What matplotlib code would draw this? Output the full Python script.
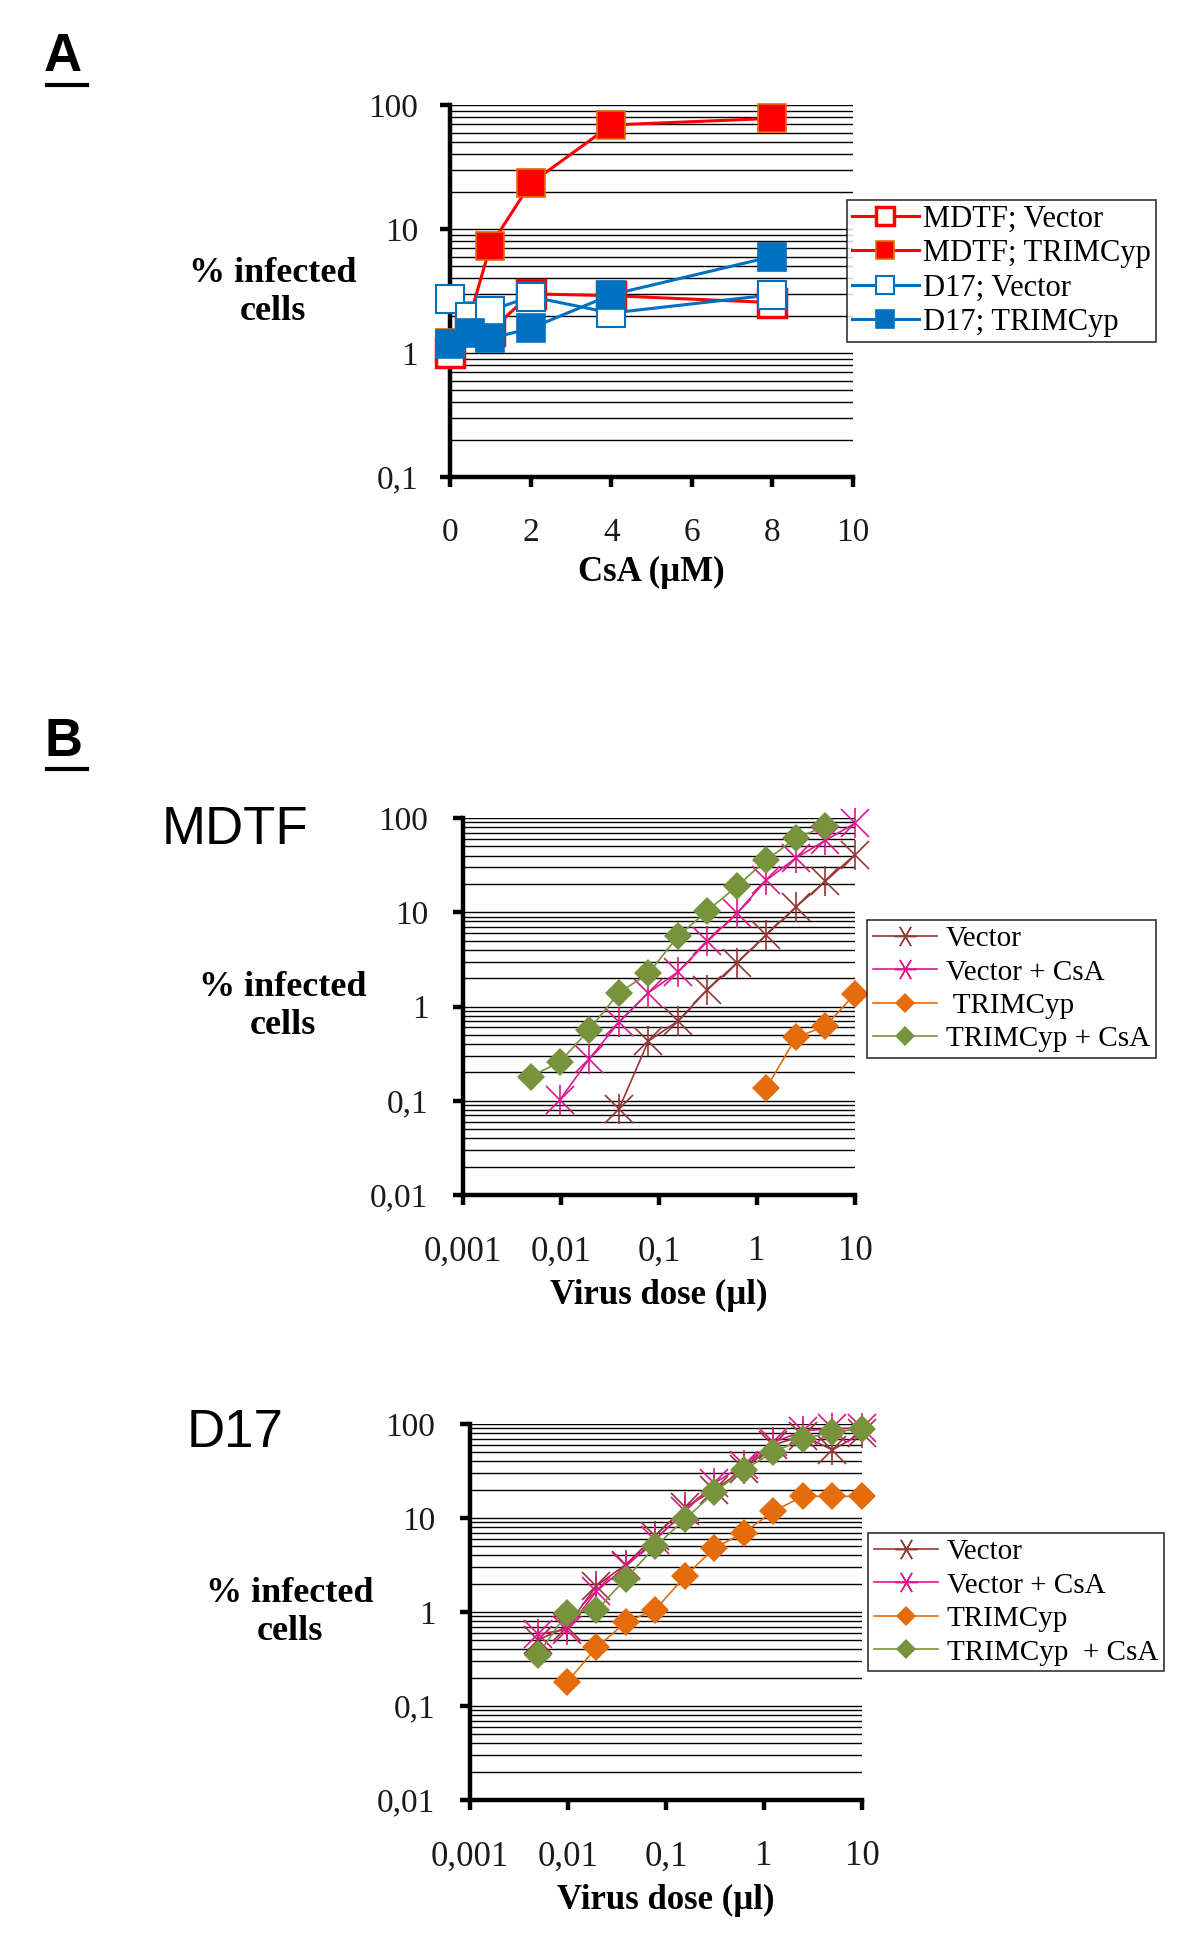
import matplotlib
matplotlib.use("Agg")
import matplotlib.pyplot as plt
from matplotlib.ticker import LogLocator, FixedLocator, FuncFormatter, NullFormatter
from matplotlib.lines import Line2D

# Panel A : % infected cells vs CsA
csa = [0, 0.5, 1, 2, 4, 8]
mdtf_vector = [1.0, 1.6, 1.5, 3.0, 2.9, 2.55]
mdtf_trimcyp = [1.2, 2.0, 7.3, 23.3, 69, 78]
d17_vector = [2.75, 1.95, 2.2, 2.85, 2.1, 2.95]
d17_trimcyp = [1.18, 1.45, 1.31, 1.58, 2.95, 6.0]

# Panel B : % infected cells vs virus dose (two-fold dilutions)
dose = [0.0049, 0.0098, 0.0195, 0.039, 0.078, 0.156, 0.3125, 0.625, 1.25, 2.5, 5, 10]
mdtf_vec = [None, None, None, 0.082, 0.43, 0.70, 1.51, 2.9, 5.8, 11.4, 21.4, 40.9]
mdtf_vec_csa = [None, 0.103, 0.28, 0.68, 1.4, 2.33, 4.9, 9.8, 22, 37.7, 58, 88]
mdtf_trim = [None, None, None, None, None, None, None, None, 0.137, 0.47, 0.62, 1.36]
mdtf_trim_csa = [0.18, 0.26, 0.57, 1.40, 2.24, 5.57, 10.4, 18.9, 36, 61, 82, None]

d17_vec = [0.50, 0.70, 1.9, 3.2, 6.5, 13, 20, 33, 60, 75, 53, 80]
d17_vec_csa = [0.58, 0.65, 1.66, 3.06, 5.9, 11.8, 23.5, 37, 64, 84, 90, 90]
d17_trim = [None, 0.18, 0.42, 0.78, 1.06, 2.39, 4.8, 7.0, 11.8, 17, 17, 17]
d17_trim_csa = [0.35, 0.98, 1.04, 2.27, 5.0, 9.7, 18.8, 32.6, 50.4, 69, 83, 88]

labels_a = ["MDTF; Vector", "MDTF; TRIMCyp", "D17; Vector", "D17; TRIMCyp"]
labels_mdtf = ["Vector", "Vector + CsA", " TRIMCyp", "TRIMCyp + CsA"]
labels_d17 = ["Vector", "Vector + CsA", "TRIMCyp", "TRIMCyp  + CsA"]

serif = "Liberation Serif"
sans = "Liberation Sans"

W, H = 1200, 1955
fig = plt.figure(figsize=(12, 19.55), dpi=100)


def box(l, t, r, b):
    # pixel box -> figure fraction
    return [l / W, 1 - b / H, (r - l) / W, (b - t) / H]


def comma(v, pos):
    s = ("%g" % v)
    if v < 0.01 and v > 0:
        s = "%.3f" % v
    return s.replace(".", ",")


def style_axes(ax, xpad, ypad, size):
    for s in ["top", "right"]:
        ax.spines[s].set_visible(False)
    for s in ["left", "bottom"]:
        ax.spines[s].set_linewidth(3.2)
    ax.set_yscale("log")
    ax.yaxis.set_major_formatter(FuncFormatter(comma))
    ax.yaxis.set_minor_locator(LogLocator(base=10, subs=range(2, 10)))
    ax.yaxis.set_minor_formatter(NullFormatter())
    ax.yaxis.grid(True, which="both", color="black", linewidth=1.0)
    ax.set_axisbelow(True)
    ax.tick_params(which="major", direction="out", length=7, width=3.2,
                   labelsize=size, colors="black", labelcolor="#1a1a1a")
    ax.tick_params(axis="x", pad=xpad)
    ax.tick_params(axis="y", pad=ypad)
    ax.tick_params(which="minor", length=0)
    for t in ax.get_xticklabels() + ax.get_yticklabels():
        t.set_fontfamily(serif)


def panel_letter(txt, x, y, y_line):
    fig.text(x / W, 1 - y / H, txt, fontsize=38, fontweight="bold",
             family=sans, ha="left", va="top")
    fig.add_artist(Line2D([47 / W, 87 / W], [1 - y_line / H, 1 - y_line / H],
                          color="black", linewidth=3))


def ylabel(x, y):
    fig.text(x / W, 1 - y / H, "% infected\ncells", fontsize=26,
             fontweight="bold", family=serif, ha="center", va="center",
             linespacing=1.2)


# ---------------- Panel A ----------------
panel_letter("A", 44, 32, 85)
axA = fig.add_axes(box(450, 105, 853, 477))
axA.plot(csa, mdtf_vector, color="#FF0000", lw=2.2, marker="s", ms=20,
         mfc="white", mec="#FF0000", mew=2.5, clip_on=False, zorder=3, label=labels_a[0])
axA.plot(csa, mdtf_trimcyp, color="#FF0000", lw=2.2, marker="s", ms=20,
         mfc="#FF0000", mec="#E46C0A", mew=1.2, clip_on=False, zorder=4, label=labels_a[1])
axA.plot(csa, d17_vector, color="#0070C0", lw=2.2, marker="s", ms=20,
         mfc="white", mec="#0070C0", mew=1.5, clip_on=False, zorder=5, label=labels_a[2])
axA.plot(csa, d17_trimcyp, color="#0070C0", lw=2.2, marker="s", ms=20,
         mfc="#0070C0", mec="#0070C0", mew=1.2, clip_on=False, zorder=6, label=labels_a[3])
axA.set_xlim(0, 10)
axA.set_ylim(0.1, 100)
axA.set_xticks([0, 2, 4, 6, 8, 10])
style_axes(axA, 22, 16, 24)
axA.set_xlabel("CsA (µM)", fontsize=25, fontweight="bold", family=serif, labelpad=6)
ylabel(273, 292)
legA = fig.legend(loc="upper left", bbox_to_anchor=(847 / W, 1 - 200 / H),
                  prop={"family": serif, "size": 22}, frameon=True, fancybox=False,
                  edgecolor="black", borderaxespad=0, markerscale=0.65,
                  handlelength=2.2, handletextpad=0.15, labelspacing=0.18,
                  borderpad=0.15)
legA.get_frame().set_linewidth(1.2)


# ---------------- Panel B ----------------
def dose_panel(ax, series, labels, leg_xy):
    vec, vec_csa, trim, trim_csa = series
    xs = lambda ys: [d for d, v in zip(dose, ys) if v is not None]
    ys = lambda ys: [v for v in ys if v is not None]
    ax.plot(xs(vec), ys(vec), color="#953735", lw=1.2, marker="x", ms=20, mew=1.2,
            clip_on=False, zorder=3)
    ax.plot(xs(vec), ys(vec), ls="none", color="#953735", marker="|", ms=22, mew=1.2,
            clip_on=False, zorder=3)
    ax.plot(xs(vec_csa), ys(vec_csa), color="#E0158C", lw=1.2, marker="x", ms=20, mew=1.2,
            clip_on=False, zorder=4)
    ax.plot(xs(vec_csa), ys(vec_csa), ls="none", color="#E0158C", marker="|", ms=22, mew=1.2,
            clip_on=False, zorder=4)
    ax.plot(xs(trim), ys(trim), color="#E46C0A", lw=1.2, marker="D", ms=14, mew=0,
            clip_on=False, zorder=5)
    ax.plot(xs(trim_csa), ys(trim_csa), color="#77933C", lw=1.2, marker="D", ms=14, mew=0,
            clip_on=False, zorder=6)
    ax.set_xscale("log")
    ax.set_xlim(0.001, 10)
    ax.set_ylim(0.01, 100)
    ax.xaxis.set_major_locator(FixedLocator([0.001, 0.01, 0.1, 1, 10]))
    ax.xaxis.set_minor_locator(FixedLocator([]))
    ax.xaxis.set_major_formatter(FuncFormatter(comma))
    style_axes(ax, 22, 18, 24)
    ax.set_yticks([0.01, 0.1, 1, 10, 100])
    ax.tick_params(axis="x", labelsize=25)
    for t in ax.get_xticklabels() + ax.get_yticklabels():
        t.set_fontfamily(serif)
    ax.set_xlabel("Virus dose (µl)", fontsize=25, fontweight="bold", family=serif,
                  labelpad=8)
    handles = [
        Line2D([], [], color="#953735", lw=1.2, marker=(6, 2, 90), ms=16, mew=1.0),
        Line2D([], [], color="#E0158C", lw=1.2, marker=(6, 2, 90), ms=16, mew=1.0),
        Line2D([], [], color="#E46C0A", lw=1.2, marker="D", ms=10, mew=0),
        Line2D([], [], color="#77933C", lw=1.2, marker="D", ms=10, mew=0),
    ]
    leg = fig.legend(handles, labels, loc="upper left",
                     bbox_to_anchor=(leg_xy[0] / W, 1 - leg_xy[1] / H),
                     prop={"family": serif, "size": 21}, frameon=True, fancybox=False,
                     edgecolor="black", borderaxespad=0, handlelength=2.2,
                     handletextpad=0.3, labelspacing=0.24, borderpad=0.2)
    leg.get_frame().set_linewidth(1.2)


panel_letter("B", 44, 717, 769)
fig.text(235 / W, 1 - 830 / H, "MDTF", fontsize=38, family=sans, ha="center", va="center")
axB1 = fig.add_axes(box(463, 818, 855, 1195))
dose_panel(axB1, [mdtf_vec, mdtf_vec_csa, mdtf_trim, mdtf_trim_csa], labels_mdtf, (867, 920))
ylabel(283, 1007)

fig.text(235 / W, 1 - 1433 / H, "D17", fontsize=38, family=sans, ha="center", va="center")
axB2 = fig.add_axes(box(470, 1424, 862, 1800))
dose_panel(axB2, [d17_vec, d17_vec_csa, d17_trim, d17_trim_csa], labels_d17, (868, 1533))
ylabel(290, 1612)

fig.savefig("out.png", dpi=100, facecolor="white")
